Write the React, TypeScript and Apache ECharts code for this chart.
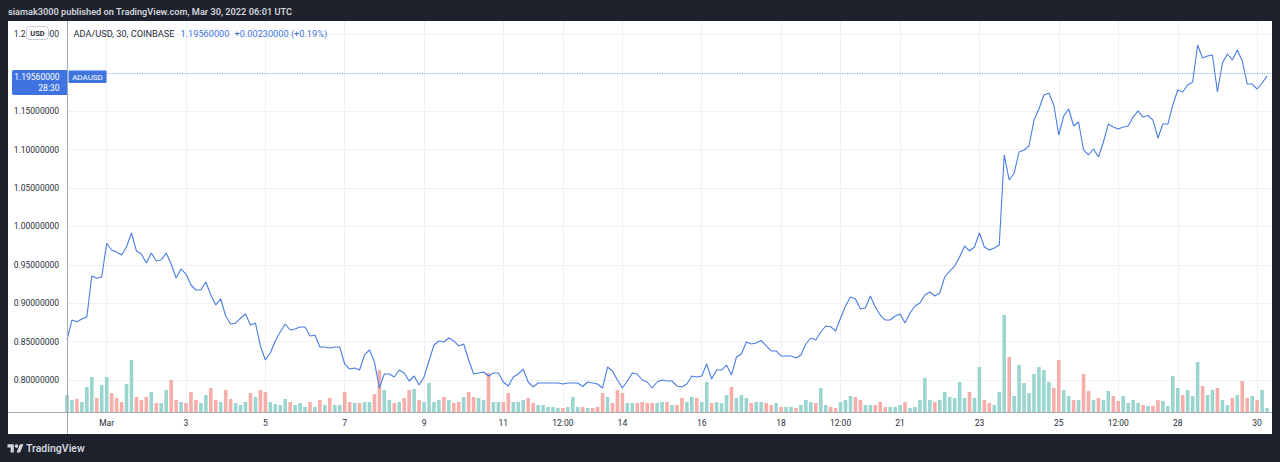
import React, { useEffect, useRef } from "react";
import * as echarts from "echarts";

// Time: hours relative to Mar 1 2022 00:00 UTC; one sample every 3 hours from Feb 28 00:00
const START_HOUR = -24;
const STEP_HOURS = 3;

// ADA/USD close (3-hour samples)
const priceClose = [
  0.8521, 0.8781, 0.8759, 0.8794, 0.882, 0.9354, 0.9324, 0.9341, 0.978, 0.9693,
  0.9667, 0.9628, 0.9732, 0.9914, 0.968, 0.9641, 0.9524, 0.9654, 0.955, 0.9563,
  0.9654, 0.9511, 0.9328, 0.9445, 0.938, 0.9237, 0.9172, 0.9172, 0.9276, 0.9107,
  0.8977, 0.9055, 0.8833, 0.8729, 0.8742, 0.8807, 0.8859, 0.8716, 0.8742, 0.8443,
  0.826, 0.8352, 0.8508, 0.8625, 0.8729, 0.8651, 0.8664, 0.869, 0.869, 0.8573,
  0.8586, 0.843, 0.843, 0.8417, 0.843, 0.843, 0.8208, 0.8143, 0.8156, 0.813,
  0.8326, 0.8391, 0.8234, 0.7896, 0.8078, 0.8078, 0.8039, 0.813, 0.8091, 0.7987,
  0.8052, 0.7935, 0.8039, 0.8247, 0.8456, 0.8508, 0.8495, 0.8547, 0.8508, 0.8443,
  0.8469, 0.826, 0.8078, 0.8091, 0.8104, 0.8052, 0.8091, 0.8091, 0.7974, 0.7922,
  0.8039, 0.8078, 0.8143, 0.7974, 0.7909, 0.7961, 0.7961, 0.7961, 0.7961, 0.7961,
  0.7948, 0.7961, 0.7961, 0.7961, 0.7915, 0.7974, 0.7961, 0.7948, 0.7896, 0.8169,
  0.8117, 0.8, 0.7896, 0.7987, 0.8091, 0.8078, 0.8, 0.7974, 0.7896, 0.7974,
  0.8, 0.7987, 0.7987, 0.7922, 0.7909, 0.7948, 0.8052, 0.8039, 0.8052, 0.8208,
  0.8013, 0.813, 0.813, 0.8195, 0.8065, 0.8299, 0.8339, 0.8495, 0.8469, 0.8482,
  0.8514, 0.8443, 0.8378, 0.8378, 0.8313, 0.8313, 0.8313, 0.8286, 0.8326, 0.8469,
  0.8547, 0.8521, 0.8625, 0.8703, 0.8694, 0.8638, 0.8807, 0.8964, 0.9081, 0.9055,
  0.8925, 0.8938, 0.9094, 0.8951, 0.8846, 0.8781, 0.8781, 0.8833, 0.8859, 0.8742,
  0.8872, 0.8964, 0.9003, 0.9107, 0.9146, 0.9094, 0.9133, 0.9341, 0.9419, 0.9484,
  0.9602, 0.9745, 0.968, 0.9732, 0.9914, 0.9732, 0.9693, 0.9719, 0.9758, 1.093,
  1.0604, 1.0695, 1.0969, 1.0995, 1.1047, 1.1385, 1.1529, 1.1711, 1.1737, 1.1581,
  1.119, 1.1437, 1.1529, 1.1307, 1.1359, 1.0995, 1.093, 1.1008, 1.0904, 1.1099,
  1.1333, 1.1294, 1.1268, 1.1294, 1.1307, 1.1424, 1.1503, 1.1424, 1.1444, 1.1385,
  1.1151, 1.1333, 1.1333, 1.1581, 1.1776, 1.175, 1.1841, 1.188, 1.2362, 1.2193,
  1.2219, 1.2232, 1.175, 1.2128, 1.2245, 1.2167, 1.2297, 1.2154, 1.1854, 1.1854,
  1.1789, 1.1867, 1.1956,
];

// Volume per 3-hour sample (hundred-thousand ADA)
const volume = [
  17, 12, 13, 10, 25, 35, 14, 27, 35, 19,
  14, 10, 28, 52, 15, 12, 15, 20, 9, 9,
  22, 32, 12, 10, 9, 20, 12, 9, 17, 24,
  12, 10, 22, 13, 9, 7, 10, 19, 15, 22,
  20, 10, 8, 7, 13, 10, 7, 9, 5, 10,
  5, 12, 7, 14, 7, 7, 20, 10, 9, 9,
  10, 10, 18, 42, 22, 12, 9, 10, 14, 22,
  23, 12, 10, 29, 10, 12, 15, 12, 9, 10,
  15, 20, 15, 14, 12, 39, 10, 10, 10, 19,
  10, 10, 12, 14, 9, 7, 7, 5, 5, 4,
  4, 5, 15, 5, 5, 4, 4, 5, 19, 15,
  9, 22, 19, 9, 9, 9, 10, 9, 9, 9,
  10, 10, 7, 7, 14, 10, 15, 14, 10, 30,
  9, 10, 9, 17, 25, 14, 17, 14, 9, 10,
  10, 9, 7, 9, 5, 5, 5, 4, 7, 12,
  10, 9, 24, 7, 5, 4, 10, 12, 16, 15,
  12, 7, 7, 7, 10, 5, 5, 5, 7, 10,
  4, 5, 12, 34, 12, 10, 12, 20, 15, 14,
  30, 14, 20, 14, 45, 12, 9, 7, 20, 97,
  55, 16, 47, 29, 19, 38, 45, 42, 30, 24,
  52, 22, 16, 12, 12, 38, 21, 12, 14, 12,
  21, 16, 11, 16, 9, 12, 9, 7, 6, 6,
  12, 11, 6, 36, 24, 17, 22, 16, 50, 26,
  17, 22, 24, 12, 7, 14, 17, 31, 14, 16,
  12, 22, 4,
];

const xTickHours = [0, 48, 96, 144, 192, 240, 276, 312, 360, 408, 444, 480, 528, 576, 612, 648, 696];
const xTickLabels = ["Mar", "3", "5", "7", "9", "11", "12:00", "14", "16", "18", "12:00", "21", "23", "25", "12:00", "28", "30"];
const yTickValues = [0.8, 0.85, 0.9, 0.95, 1.0, 1.05, 1.1, 1.15, 1.2, 1.25];
// the 1.20 label sits fully under the last-price box in the reference
const yHiddenLabel = 1.2;

const LAST_PRICE = 1.1956;
const LAST_CHANGE = 0.0023;
const LAST_CHANGE_PCT = 0.19;
const COUNTDOWN = "28:30";
const TITLE = "siamak3000 published on TradingView.com, Mar 30, 2022 06:01 UTC";
const SYMBOL = "ADA/USD, 30, COINBASE";

const LOGO_D = "M14 22H7V11H0V4h14v18zM28 22h-8l7.5-18h8L28 22zM24 8a4 4 0 1 1-8 0a4 4 0 1 1 8 0z";
echarts.graphic.registerShape("tvlogo", echarts.graphic.extendPath(LOGO_D, {}) as any);

const BLUE = "#3f74e0";
const LINE_BLUE = "#4a7de2";
const FONT = "Roboto, 'Noto Sans', sans-serif";

export default function App() {
  const ref = useRef<HTMLDivElement>(null);

  useEffect(() => {
    document.body.style.margin = "0";
    document.body.style.background = "#1e222d";
    if (!ref.current) return;
    const chart = echarts.init(ref.current, undefined, { renderer: "svg" });

    const times = priceClose.map((_, i) => START_HOUR + i * STEP_HOURS);
    const lineData = times.map((t, i) => [t, priceClose[i]]);
    const volData = times.map((t, i) => {
      const up = i === 0 ? true : priceClose[i] >= priceClose[i - 1];
      return { value: [t, volume[i]], itemStyle: { color: up ? "#9ad5cf" : "#f6aeab" } };
    });

    const option: any = {
      animation: false,
      backgroundColor: "#1e222d",
      grid: { left: 67, right: 8, top: 21, bottom: 50, containLabel: false },
      xAxis: {
        type: "value",
        min: START_HOUR,
        max: 705,
        axisLine: { show: false },
        axisTick: { show: false, customValues: xTickHours },
        axisLabel: {
          customValues: xTickHours,
          margin: 6,
          color: "#2a2e39",
          fontSize: 8.5,
          fontFamily: FONT,
          formatter: (v: number) => {
            const i = xTickHours.indexOf(v);
            return i >= 0 ? xTickLabels[i] : "";
          },
        },
        splitLine: { show: true, lineStyle: { color: "#edf0f5", width: 1 } },
      },
      yAxis: [
        {
          type: "value",
          min: 0.75833,
          max: 1.26745,
          position: "left",
          axisLine: { show: false },
          axisTick: { show: false, customValues: yTickValues },
          axisLabel: {
            customValues: yTickValues,
            margin: 8,
            color: "#2a2e39",
            fontSize: 8.5,
            fontFamily: FONT,
            formatter: (v: number) => (Math.abs(v - yHiddenLabel) < 1e-9 ? "" : v.toFixed(8)),
          },
          splitLine: { show: true, lineStyle: { color: "#edf0f5", width: 1 } },
        },
        {
          type: "value",
          min: 0,
          max: 391,
          show: false,
          splitLine: { show: false },
        },
      ],
      series: [
        {
          type: "bar",
          yAxisIndex: 1,
          data: volData,
          barWidth: 3.6,
          z: 1,
          silent: true,
        },
        {
          type: "line",
          yAxisIndex: 0,
          data: lineData,
          showSymbol: false,
          symbol: "none",
          lineStyle: { color: LINE_BLUE, width: 1.1 },
          z: 3,
          silent: true,
          markLine: {
            silent: true,
            symbol: ["none", "none"],
            label: { show: false },
            lineStyle: { color: "#7fa2ea", type: [1, 1.5], width: 1 },
            data: [{ yAxis: LAST_PRICE }],
          },
        },
      ],
      graphic: [
        { type: "rect", z: -100, shape: { x: 8, y: 21, width: 1264, height: 413 }, style: { fill: "#ffffff" } },
        { type: "line", z: 50, shape: { x1: 67.5, y1: 21, x2: 67.5, y2: 434 }, style: { stroke: "#a5a8b0", lineWidth: 1 } },
        { type: "line", z: 50, shape: { x1: 8, y1: 412.5, x2: 1272, y2: 412.5 }, style: { stroke: "#a5a8b0", lineWidth: 1 } },
        {
          type: "text", z: 50, x: 8, y: 11.5,
          style: { text: TITLE, fill: "#d1d4dc", font: `600 9.2px ${FONT}`, verticalAlign: "middle", align: "left" },
        },
        {
          type: "text", z: 50, x: 73.5, y: 33,
          style: { text: SYMBOL, fill: "#2a2e39", font: `9.2px ${FONT}`, verticalAlign: "middle", align: "left" },
        },
        {
          type: "text", z: 50, x: 180.5, y: 33,
          style: { text: LAST_PRICE.toFixed(8), fill: BLUE, font: `9.2px ${FONT}`, verticalAlign: "middle", align: "left" },
        },
        {
          type: "text", z: 50, x: 234.5, y: 33,
          style: {
            text: `+${LAST_CHANGE.toFixed(8)} (+${LAST_CHANGE_PCT.toFixed(2)}%)`,
            fill: BLUE, font: `9.2px ${FONT}`, verticalAlign: "middle", align: "left",
          },
        },
        {
          type: "rect", z: 60, shape: { x: 26.5, y: 26.5, width: 22, height: 13, r: 3 },
          style: { fill: "#ffffff", stroke: "#c9ccd3", lineWidth: 1 },
        },
        {
          type: "text", z: 61, x: 37.5, y: 33.2,
          style: { text: "USD", fill: "#2a2e39", font: `bold 7.5px ${FONT}`, verticalAlign: "middle", align: "center" },
        },
        {
          type: "rect", z: 60, shape: { x: 12, y: 70, width: 55, height: 25, r: [2, 0, 0, 2] },
          style: { fill: BLUE },
        },
        {
          type: "text", z: 61, x: 59.5, y: 77,
          style: { text: LAST_PRICE.toFixed(8), fill: "#ffffff", font: `8.5px ${FONT}`, verticalAlign: "middle", align: "right" },
        },
        {
          type: "text", z: 61, x: 59.5, y: 88,
          style: { text: COUNTDOWN, fill: "#ffffff", font: `8.5px ${FONT}`, verticalAlign: "middle", align: "right" },
        },
        {
          type: "rect", z: 60, shape: { x: 68.5, y: 70.5, width: 38, height: 12.5, r: 1 },
          style: { fill: BLUE },
        },
        {
          type: "text", z: 61, x: 87.5, y: 77,
          style: { text: "ADAUSD", fill: "#ffffff", font: `8px ${FONT}`, verticalAlign: "middle", align: "center" },
        },
        {
          type: "tvlogo", z: 50, x: 7.5, y: 442.5, scaleX: 0.45, scaleY: 0.45,
          style: { fill: "#d1d4dc" },
        },
        {
          type: "text", z: 50, x: 26, y: 448.5,
          style: { text: "TradingView", fill: "#d1d4dc", font: `600 10.5px ${FONT}`, verticalAlign: "middle", align: "left" },
        },
      ],
    };

    chart.setOption(option);
    return () => chart.dispose();
  }, []);

  return <div ref={ref} style={{ width: 1280, height: 462 }} />;
}
